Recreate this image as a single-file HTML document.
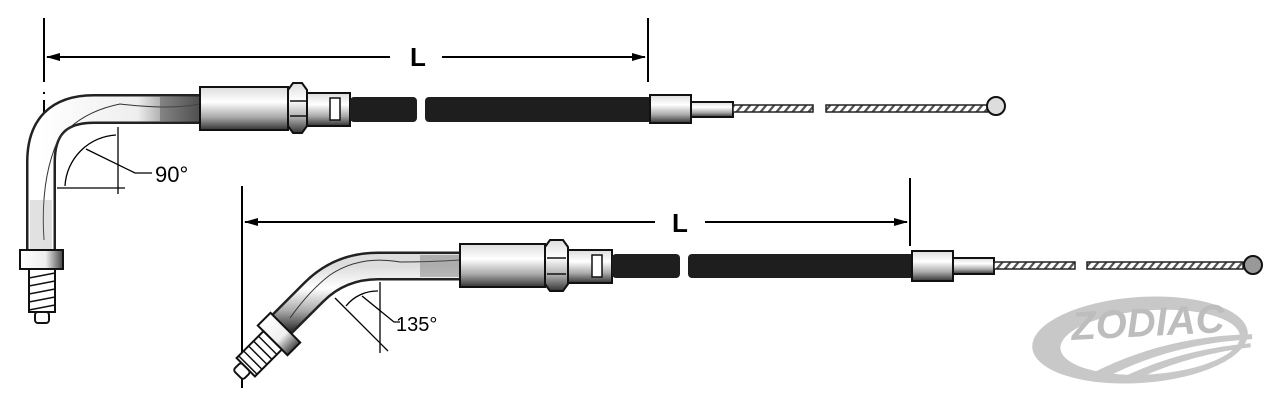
<!DOCTYPE html>
<html><head><meta charset="utf-8"><style>
html,body{margin:0;padding:0;background:#fff;}
svg{display:block}
text{font-family:"Liberation Sans",sans-serif}
</style></head><body>
<svg width="1280" height="401" viewBox="0 0 1280 401" xmlns="http://www.w3.org/2000/svg">
<defs>
<linearGradient id="fg" x1="0" y1="0" x2="0" y2="1">
<stop offset="0" stop-color="#ddd"/><stop offset="0.35" stop-color="#fff"/><stop offset="0.7" stop-color="#aaa"/><stop offset="1" stop-color="#333"/></linearGradient>
<linearGradient id="tg" x1="0" y1="0" x2="1" y2="0">
<stop offset="0" stop-color="#fff"/><stop offset="0.6" stop-color="#eee"/><stop offset="1" stop-color="#444"/></linearGradient>
<marker id="ar" markerWidth="14" markerHeight="8" refX="13" refY="4" orient="auto" markerUnits="userSpaceOnUse"><path d="M0,0 L14,4 L0,8 Z" fill="#000"/></marker>
<pattern id="tw" width="8" height="7" patternUnits="userSpaceOnUse" patternTransform="skewX(-40)">
<rect width="8" height="7" fill="#555"/><rect x="0" y="0" width="5" height="7" fill="#fff"/></pattern>
</defs>

<!-- TOP dimension -->
<g stroke="#000" stroke-width="2" fill="none">
<line x1="44" y1="18" x2="44" y2="82"/>
<line x1="648" y1="18" x2="648" y2="82"/>
<line x1="390" y1="57" x2="47" y2="57" marker-end="url(#ar)"/>
<line x1="442" y1="57" x2="645" y2="57" marker-end="url(#ar)"/>
<line x1="44" y1="92" x2="44" y2="94"/>
<line x1="44" y1="100" x2="44" y2="170"/>
</g>
<text x="418" y="66" font-size="26" font-weight="bold" text-anchor="middle">L</text>

<!-- TOP tube -->
<path d="M41,252 L41,162 Q41,109 94,109 L202,109" fill="none" stroke="#222" stroke-width="30"/>
<path d="M41,252 L41,162 Q41,109 94,109 L202,109" fill="none" stroke="url(#tg)" stroke-width="25"/>
<path d="M44,240 Q40,180 58,140 Q80,112 120,104 Q170,110 200,104" fill="none" stroke="#333" stroke-width="1"/>
<rect x="160" y="97" width="40" height="24" fill="#555" opacity="0.5"/>
<rect x="30" y="200" width="22" height="50" fill="#888" opacity="0.25"/>
<rect x="200" y="87" width="88" height="43" fill="url(#fg)" stroke="#111" stroke-width="2"/>
<path d="M288,90 L293,83 L302,83 L307,90 L307,126 L302,133 L293,133 L288,126 Z" fill="url(#fg)" stroke="#111" stroke-width="2"/>
<line x1="290" y1="101" x2="306" y2="101" stroke="#111" stroke-width="1.5"/>
<line x1="290" y1="116" x2="306" y2="116" stroke="#111" stroke-width="1.5"/>
<rect x="307" y="93" width="43" height="33" fill="url(#fg)" stroke="#111" stroke-width="2"/>
<rect x="330" y="98" width="10" height="22" fill="#fff" stroke="#111" stroke-width="1.5"/>
<rect x="350" y="97" width="67" height="25" rx="4" fill="#1e1e1e"/>
<rect x="425" y="97" width="227" height="25" rx="4" fill="#1e1e1e"/>
<rect x="650" y="95" width="41" height="28" fill="url(#fg)" stroke="#111" stroke-width="2"/>
<rect x="691" y="102" width="42" height="15" fill="url(#fg)" stroke="#111" stroke-width="2"/>
<rect x="733" y="105" width="80" height="7" fill="url(#tw)" stroke="#222" stroke-width="1.5"/>
<rect x="826" y="105" width="162" height="7" fill="url(#tw)" stroke="#222" stroke-width="1.5"/>
<circle cx="996" cy="106" r="9" fill="#ddd" stroke="#111" stroke-width="2"/>
<rect x="20" y="250" width="43" height="19" fill="url(#tg)" stroke="#111" stroke-width="2"/>
<rect x="29" y="269" width="26" height="43" fill="#fff" stroke="#111" stroke-width="2"/>
<g stroke="#111" stroke-width="1.5"><line x1="29" y1="278" x2="55" y2="273"/><line x1="29" y1="286" x2="55" y2="281"/><line x1="29" y1="294" x2="55" y2="289"/><line x1="29" y1="302" x2="55" y2="297"/><line x1="29" y1="310" x2="55" y2="305"/></g>
<rect x="35" y="312" width="14" height="11" rx="3" fill="#fff" stroke="#111" stroke-width="2"/>
<g stroke="#000" stroke-width="1.3" fill="none">
<line x1="118" y1="127" x2="118" y2="194"/>
<line x1="57" y1="188" x2="125" y2="188"/>
<path d="M116,135 A54,54 0 0 0 65,186"/>
<polyline points="86,149 135,173 152,173"/>
</g>
<text x="155" y="182" font-size="22">90°</text>

<!-- BOTTOM dimension -->
<g stroke="#000" stroke-width="2" fill="none">
<line x1="242" y1="186" x2="242" y2="388"/>
<line x1="910" y1="178" x2="910" y2="246"/>
<line x1="655" y1="222" x2="245" y2="222" marker-end="url(#ar)"/>
<line x1="705" y1="222" x2="907" y2="222" marker-end="url(#ar)"/>
</g>
<text x="680" y="232" font-size="26" font-weight="bold" text-anchor="middle">L</text>

<path d="M462,266 L378,266 Q340,266 314,292 L276,330" fill="none" stroke="#222" stroke-width="29"/>
<path d="M462,266 L378,266 Q340,266 314,292 L276,330" fill="none" stroke="url(#fg)" stroke-width="24"/>
<path d="M290,318 Q310,290 330,275 Q360,255 400,262 Q430,262 460,260" fill="none" stroke="#333" stroke-width="1"/>
<rect x="420" y="255" width="40" height="22" fill="#666" opacity="0.4"/>
<rect x="460" y="244" width="85" height="43" fill="url(#fg)" stroke="#111" stroke-width="2"/>
<path d="M545,247 L550,240 L563,240 L568,247 L568,284 L563,291 L550,291 L545,284 Z" fill="url(#fg)" stroke="#111" stroke-width="2"/>
<line x1="547" y1="258" x2="566" y2="258" stroke="#111" stroke-width="1.5"/>
<line x1="547" y1="274" x2="566" y2="274" stroke="#111" stroke-width="1.5"/>
<rect x="568" y="250" width="44" height="33" fill="url(#fg)" stroke="#111" stroke-width="2"/>
<rect x="592" y="255" width="10" height="22" fill="#fff" stroke="#111" stroke-width="1.5"/>
<rect x="612" y="254" width="68" height="24" rx="4" fill="#1e1e1e"/>
<rect x="688" y="254" width="226" height="24" rx="4" fill="#1e1e1e"/>
<rect x="912" y="251" width="41" height="30" fill="url(#fg)" stroke="#111" stroke-width="2"/>
<rect x="953" y="258" width="41" height="16" fill="url(#fg)" stroke="#111" stroke-width="2"/>
<rect x="994" y="262" width="81" height="7" fill="url(#tw)" stroke="#222" stroke-width="1.5"/>
<rect x="1087" y="262" width="156" height="7" fill="url(#tw)" stroke="#222" stroke-width="1.5"/>
<circle cx="1253" cy="265" r="9" fill="#999" stroke="#111" stroke-width="2"/>
<g transform="translate(279,334) rotate(45)">
<rect x="-21" y="-9" width="42" height="18" fill="url(#tg)" stroke="#111" stroke-width="2"/>
<rect x="-13" y="9" width="26" height="38" fill="#fff" stroke="#111" stroke-width="2"/>
<g stroke="#111" stroke-width="1.5"><line x1="-13" y1="16" x2="13" y2="16"/><line x1="-13" y1="23" x2="13" y2="23"/><line x1="-13" y1="30" x2="13" y2="30"/><line x1="-13" y1="37" x2="13" y2="37"/><line x1="-13" y1="44" x2="13" y2="44"/></g>
<rect x="-7" y="47" width="14" height="11" rx="3" fill="#fff" stroke="#111" stroke-width="2"/>
</g>
<g stroke="#000" stroke-width="1.3" fill="none">
<line x1="380" y1="282" x2="380" y2="353"/>
<line x1="335" y1="298" x2="388" y2="351"/>
<path d="M378,291 A40,40 0 0 0 346,306"/>
<polyline points="362,296 394,322 400,322"/>
</g>
<text x="396" y="331" font-size="20">135°</text>

<!-- logo -->
<g transform="translate(1140,340) rotate(-4)">
<ellipse cx="0" cy="0" rx="108" ry="43" fill="#c8c8c8"/>
<ellipse cx="10" cy="3" rx="90" ry="32" fill="#fff"/>
<path d="M-55,32 Q20,-2 112,2 L112,7 Q30,6 -36,35 Z" fill="#c8c8c8"/>
<path d="M-20,36 Q40,12 110,11 L110,15 Q50,18 -4,38 Z" fill="#c8c8c8"/>
</g>
<text x="1148" y="336" font-size="40" font-weight="bold" font-style="italic" fill="#bdbdbd" text-anchor="middle" transform="rotate(-3 1148 325)">ZODIAC</text>
</svg>
</body></html>
